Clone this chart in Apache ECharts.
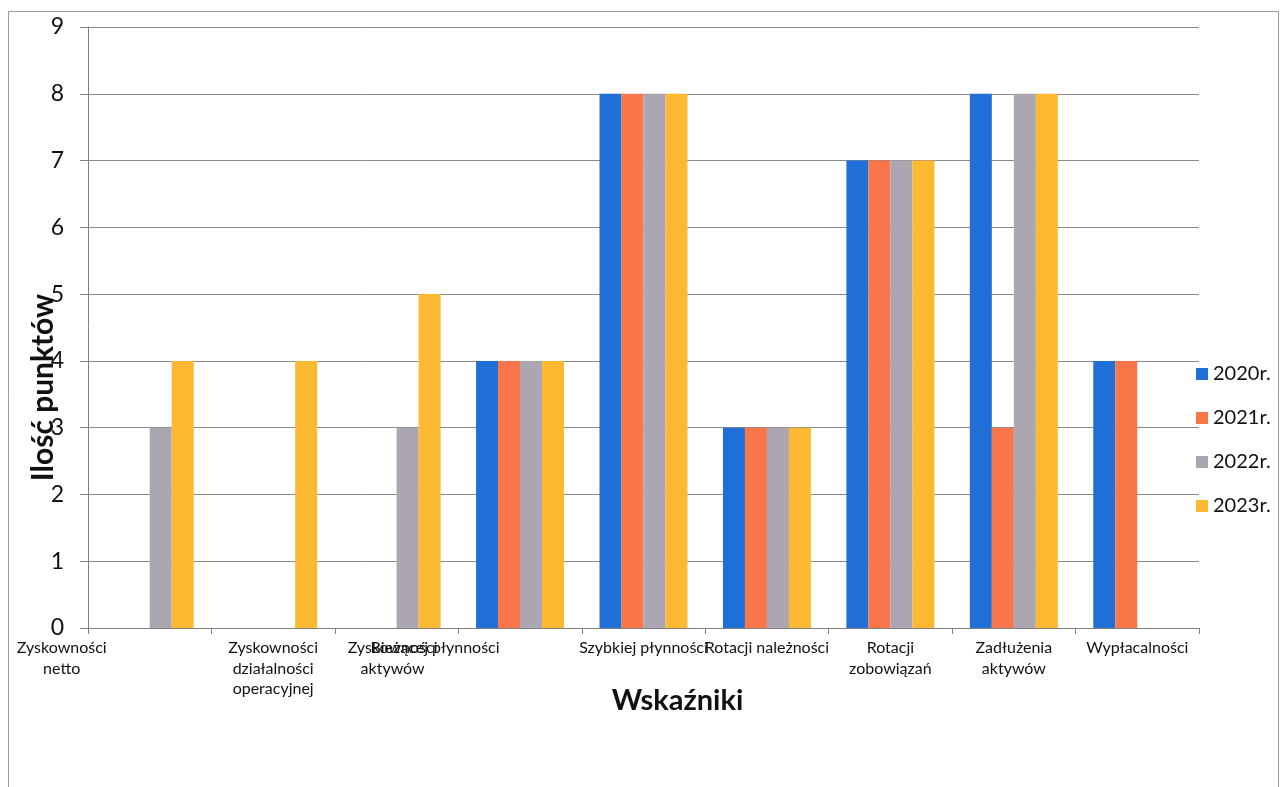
<!DOCTYPE html>
<html>
<head>
<meta charset="utf-8">
<script src="https://cdn.jsdelivr.net/npm/echarts@6/dist/echarts.min.js"></script>
<style>
  html, body { margin: 0; padding: 0; background: #fff; }
  #chart { width: 1280px; height: 787px; }
</style>
</head>
<body>
<div id="chart"></div>
<script>
// Indicator categories (x axis)
const categories = [
  'Zyskowności\nnetto',
  'Zyskowności\ndziałalności\noperacyjnej',
  'Zyskowności\naktywów',
  'Bieżącej płynności',
  'Szybkiej płynności',
  'Rotacji należności',
  'Rotacji\nzobowiązań',
  'Zadłużenia\naktywów',
  'Wypłacalności'
];

// Points per year
const years = ['2020r.', '2021r.', '2022r.', '2023r.'];
const pts2020 = [0, 0, 0, 4, 8, 3, 7, 8, 4];
const pts2021 = [0, 0, 0, 4, 8, 3, 7, 3, 4];
const pts2022 = [3, 0, 3, 4, 8, 3, 7, 8, 0];
const pts2023 = [4, 4, 5, 4, 8, 3, 7, 8, 0];

const yTicks = [0, 1, 2, 3, 4, 5, 6, 7, 8, 9];

const colors = ['#1F6FD6', '#F8764A', '#ABA6B2', '#FDB931'];
const FONT = 'Lato, "Liberation Sans", sans-serif';

// Some category labels sit left of their group; extra right padding pushes them left
const labelPad = { 0: 176, 2: 8, 3: 170 };
const rich = {
  plain: { fontSize: 16, lineHeight: 20.5, color: '#111', fontFamily: FONT }
};
Object.keys(labelPad).forEach(k => {
  rich['p' + k] = { fontSize: 16, lineHeight: 20.5, color: '#111', fontFamily: FONT,
                    padding: [0, labelPad[k], 0, 0] };
});

const seriesData = [pts2020, pts2021, pts2022, pts2023];

const chart = echarts.init(document.getElementById('chart'), null, { renderer: 'canvas' });
chart.setOption({
  animation: false,
  backgroundColor: '#fff',
  color: colors,
  graphic: [{
    type: 'rect',
    shape: { x: 8.5, y: 11.5, width: 1270, height: 800 },
    style: { fill: 'none', stroke: '#9a9a9a', lineWidth: 1 },
    silent: true
  }],
  grid: { left: 88, right: 81, top: 27, bottom: 159, containLabel: false },
  legend: {
    orient: 'vertical',
    left: 1191,
    top: 357,
    itemWidth: 12,
    itemHeight: 12,
    itemGap: 20,
    icon: 'rect',
    textStyle: { fontSize: 20, lineHeight: 24, color: '#111', fontFamily: FONT },
    data: years
  },
  xAxis: {
    type: 'category',
    data: categories,
    name: 'Wskaźniki',
    nameLocation: 'middle',
    nameGap: 58,
    nameMoveOverlap: false,
    nameTextStyle: { fontSize: 29, fontWeight: 'bold', color: '#111', fontFamily: FONT,
                     padding: [0, 0, 0, 68] },
    axisLine: { lineStyle: { color: '#7f7f7f', width: 1 } },
    axisTick: { show: true, length: 6, alignWithLabel: false, lineStyle: { color: '#7f7f7f' } },
    axisLabel: {
      interval: 0,
      margin: 10,
      formatter: (value, index) => {
        const st = labelPad[index] !== undefined ? 'p' + index : 'plain';
        return value.split('\n').map(l => '{' + st + '|' + l + '}').join('\n');
      },
      rich: rich
    },
    splitLine: { show: false }
  },
  yAxis: {
    type: 'value',
    min: yTicks[0],
    max: yTicks[yTicks.length - 1],
    interval: 1,
    name: 'Ilość punktów',
    nameLocation: 'middle',
    nameGap: 30,
    nameMoveOverlap: false,
    nameTextStyle: { fontSize: 30, fontWeight: 'bold', color: '#111', fontFamily: FONT,
                     padding: [0, 120, 0, 0] },
    axisLine: { show: true, lineStyle: { color: '#7f7f7f', width: 1 } },
    axisTick: { show: true, length: 8, lineStyle: { color: '#7f7f7f' } },
    axisLabel: { fontSize: 23, color: '#111', margin: 24, fontFamily: FONT },
    splitLine: { lineStyle: { color: '#8a8a8a', width: 1 } }
  },
  series: years.map((y, i) => ({
    name: y,
    type: 'bar',
    data: seriesData[i],
    barWidth: 22,
    barGap: '0%',
    itemStyle: { color: colors[i] }
  }))
});
</script>
</body>
</html>
